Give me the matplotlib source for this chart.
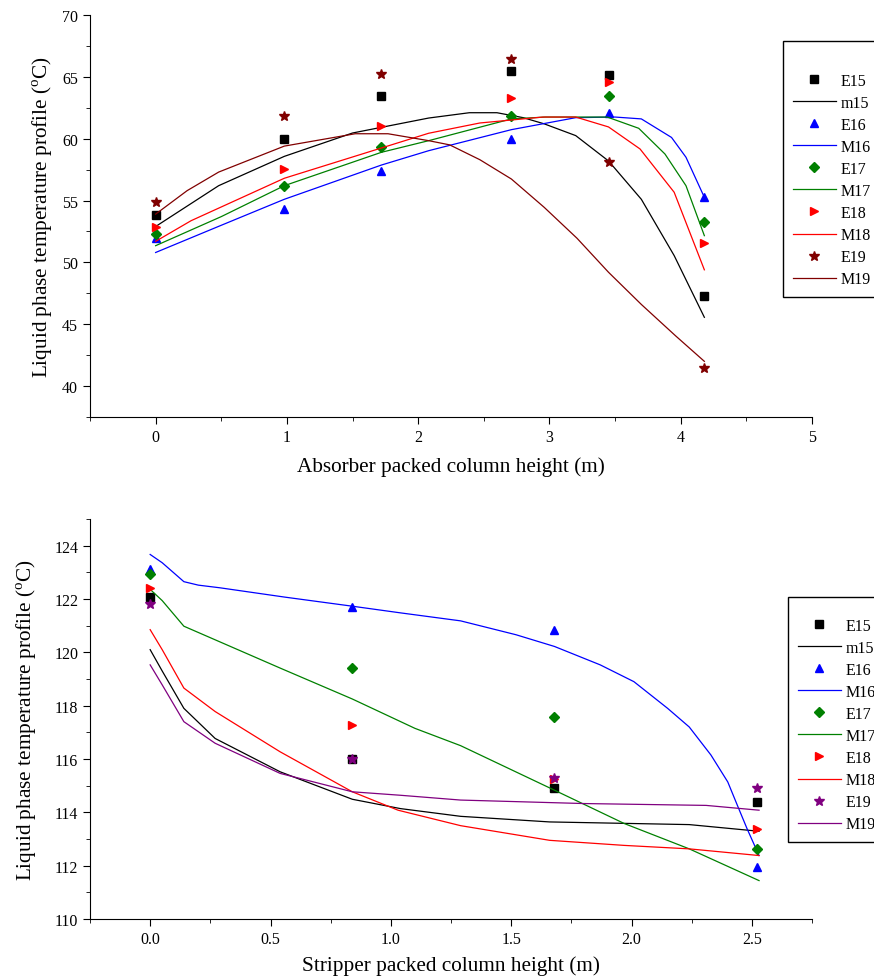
import matplotlib
matplotlib.use('Agg')
import matplotlib.pyplot as plt
from matplotlib.ticker import MultipleLocator

plt.rcParams['font.family'] = ['Liberation Serif', 'DejaVu Serif']
plt.rcParams['mathtext.fontset'] = 'custom'
plt.rcParams['mathtext.rm'] = 'Liberation Serif'

# ---- absorber (top panel) ----
abs_x_exp = [0.0, 0.98, 1.72, 2.71, 3.45, 4.18]
abs_E15 = [53.8, 59.95, 63.45, 65.5, 65.15, 47.3]
abs_E16 = [52.0, 54.3, 57.4, 60.0, 62.1, 55.3]
abs_E17 = [52.3, 56.2, 59.35, 61.8, 63.43, 53.25]
abs_E18 = [52.9, 57.55, 61.0, 63.3, 64.55, 51.6]
abs_E19 = [54.9, 61.8, 65.2, 66.45, 58.15, 41.45]

abs_M15_x = [0, 0.48, 0.98, 1.5, 2.08, 2.39, 2.6, 2.8, 2.96, 3.2, 3.45, 3.7, 3.95, 4.18]
abs_M15_y = [52.9, 56.2, 58.57, 60.46, 61.67, 62.1, 62.1, 61.7, 61.2, 60.25, 58.2, 55.1, 50.55, 45.56]
abs_M16_x = [0, 0.5, 0.98, 1.72, 2.08, 2.71, 3.2, 3.5, 3.7, 3.93, 4.04, 4.18]
abs_M16_y = [50.8, 53.0, 55.1, 57.87, 59.03, 60.73, 61.7, 61.75, 61.6, 60.1, 58.5, 55.26]
abs_M17_x = [0, 0.5, 0.98, 1.72, 2.08, 2.71, 2.97, 3.44, 3.68, 3.88, 4.04, 4.18]
abs_M17_y = [51.35, 53.7, 56.2, 58.9, 59.84, 61.6, 61.75, 61.75, 60.84, 58.76, 56.2, 52.16]
abs_M18_x = [0, 0.27, 0.98, 2.08, 2.47, 2.95, 3.2, 3.45, 3.69, 3.95, 4.18]
abs_M18_y = [51.7, 53.37, 56.8, 60.44, 61.27, 61.75, 61.75, 60.95, 59.17, 55.67, 49.4]
abs_M19_x = [0, 0.24, 0.48, 0.98, 1.52, 1.77, 2.08, 2.24, 2.47, 2.71, 2.96, 3.21, 3.45, 3.7, 3.96, 4.18]
abs_M19_y = [53.9, 55.8, 57.3, 59.4, 60.4, 60.4, 59.84, 59.5, 58.3, 56.74, 54.45, 51.95, 49.2, 46.6, 44.07, 42.0]

# ---- stripper (bottom panel) ----
str_x_exp = [0.0, 0.84, 1.68, 2.52]
str_E15 = [122.07, 116.0, 114.93, 114.39]
str_E16 = [123.13, 121.7, 120.83, 111.94]
str_E17 = [122.95, 119.41, 117.56, 112.61]
str_E18 = [122.42, 117.27, 115.25, 113.39]
str_E19 = [121.83, 116.0, 115.3, 114.92]

str_M15_x = [0, 0.05, 0.14, 0.27, 0.54, 0.84, 1.04, 1.29, 1.66, 2.24, 2.53]
str_M15_y = [120.1, 119.3, 117.9, 116.77, 115.52, 114.49, 114.14, 113.85, 113.64, 113.54, 113.29]
str_M16_x = [0, 0.05, 0.14, 0.2, 0.29, 0.56, 0.84, 1.04, 1.29, 1.52, 1.68, 1.87, 2.01, 2.15, 2.24, 2.33, 2.4, 2.44, 2.48, 2.53]
str_M16_y = [123.67, 123.36, 122.65, 122.52, 122.42, 122.07, 121.73, 121.48, 121.18, 120.66, 120.22, 119.53, 118.9, 117.9, 117.2, 116.15, 115.14, 114.26, 113.39, 112.38]
str_M17_x = [0, 0.05, 0.14, 0.27, 0.54, 0.84, 1.1, 1.29, 1.68, 1.97, 2.24, 2.53]
str_M17_y = [122.36, 121.94, 120.98, 120.47, 119.41, 118.25, 117.15, 116.5, 114.83, 113.58, 112.63, 111.44]
str_M18_x = [0, 0.05, 0.14, 0.27, 0.54, 0.84, 1.03, 1.29, 1.66, 1.97, 2.24, 2.53]
str_M18_y = [120.85, 120.1, 118.66, 117.78, 116.27, 114.77, 114.08, 113.5, 112.95, 112.76, 112.63, 112.38]
str_M19_x = [0, 0.05, 0.14, 0.27, 0.54, 0.84, 1.04, 1.29, 1.8, 2.31, 2.53]
str_M19_y = [119.53, 118.78, 117.4, 116.59, 115.46, 114.77, 114.64, 114.46, 114.33, 114.26, 114.08]

labels = ['E15', 'm15', 'E16', 'M16', 'E17', 'M17', 'E18', 'M18', 'E19', 'M19']
markers = ['s', '^', 'D', '>', '*']


def style_axes(ax):
    ax.spines['top'].set_visible(False)
    ax.spines['right'].set_visible(False)
    ax.tick_params(which='both', direction='out', labelsize=11.5)
    ax.tick_params(which='major', length=5)
    ax.tick_params(which='minor', length=3)


def draw_panel(ax, x_exp, exps, models, colors):
    handles = []
    for i in range(5):
        h1, = ax.plot(x_exp, exps[i], linestyle='none', marker=markers[i], color=colors[i],
                      ms=7 if markers[i] == '*' else 5.5, mec=colors[i])
        h2, = ax.plot(models[i][0], models[i][1], color=colors[i], lw=0.9)
        handles += [h1, h2]
    return handles


fig = plt.figure(figsize=(8.74, 9.78), dpi=100)
ylab = r'Liquid phase temperature profile ($^{\mathrm{o}}$C)'

# top: absorber
ax1 = fig.add_axes([90 / 874, 1 - 418 / 978, 722 / 874, 402 / 978])
cols1 = ['black', 'blue', 'green', 'red', '#800000']
h = draw_panel(ax1, abs_x_exp, [abs_E15, abs_E16, abs_E17, abs_E18, abs_E19],
               [(abs_M15_x, abs_M15_y), (abs_M16_x, abs_M16_y), (abs_M17_x, abs_M17_y),
                (abs_M18_x, abs_M18_y), (abs_M19_x, abs_M19_y)], cols1)
ax1.set_xlim(-0.5, 5)
ax1.set_ylim(37.5, 70)
ax1.xaxis.set_major_locator(MultipleLocator(1))
ax1.xaxis.set_minor_locator(MultipleLocator(0.5))
ax1.yaxis.set_major_locator(MultipleLocator(5))
ax1.yaxis.set_minor_locator(MultipleLocator(2.5))
style_axes(ax1)
ax1.set_xlabel('Absorber packed column height (m)', fontsize=15.3, labelpad=8)
ax1.set_ylabel(ylab, fontsize=15.3, labelpad=5)
leg1 = fig.legend(h, labels, loc='upper left', bbox_to_anchor=(783 / 874, 1 - 42 / 978),
                  borderaxespad=0, fontsize=11.5, title=' ', title_fontsize=11.5,
                  fancybox=False, edgecolor='black', framealpha=1, handlelength=2.7,
                  handletextpad=0.3, labelspacing=0.38, borderpad=0.6)
leg1.get_frame().set_linewidth(1.0)

# bottom: stripper
ax2 = fig.add_axes([90 / 874, 1 - 920 / 978, 722 / 874, 400 / 978])
cols2 = ['black', 'blue', 'green', 'red', 'purple']
h = draw_panel(ax2, str_x_exp, [str_E15, str_E16, str_E17, str_E18, str_E19],
               [(str_M15_x, str_M15_y), (str_M16_x, str_M16_y), (str_M17_x, str_M17_y),
                (str_M18_x, str_M18_y), (str_M19_x, str_M19_y)], cols2)
ax2.set_xlim(-0.25, 2.75)
ax2.set_ylim(110, 125)
ax2.xaxis.set_major_locator(MultipleLocator(0.5))
ax2.xaxis.set_minor_locator(MultipleLocator(0.25))
ax2.yaxis.set_major_locator(MultipleLocator(2))
ax2.yaxis.set_minor_locator(MultipleLocator(1))
ax2.xaxis.set_major_formatter(plt.FormatStrFormatter('%.1f'))
style_axes(ax2)
ax2.set_xlabel('Stripper packed column height (m)', fontsize=15.3, labelpad=6)
ax2.set_ylabel(ylab, fontsize=15.3, labelpad=11)
leg2 = fig.legend(h, labels, loc='upper left', bbox_to_anchor=(788 / 874, 1 - 598 / 978),
                  borderaxespad=0, fontsize=11.5, title=' ', title_fontsize=4,
                  fancybox=False, edgecolor='black', framealpha=1, handlelength=2.7,
                  handletextpad=0.3, labelspacing=0.38, borderpad=0.6)
leg2.get_frame().set_linewidth(1.0)

fig.savefig('out.png', dpi=100)
